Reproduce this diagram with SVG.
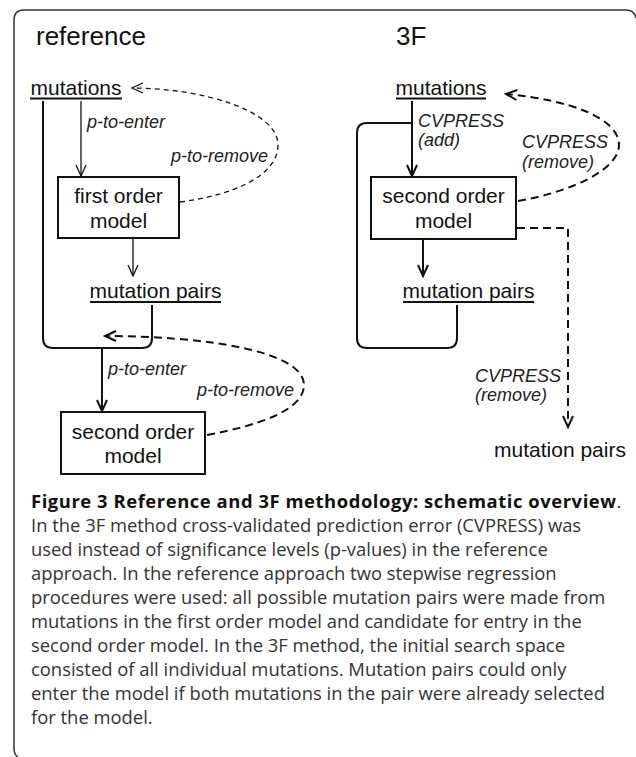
<svg xmlns="http://www.w3.org/2000/svg" width="636" height="757" viewBox="0 0 636 757">
<defs>
<style>
.t{font-family:"Liberation Sans",Arial,sans-serif;font-size:21px;fill:#111;}
.big{font-size:26px;}
.it{font-family:"Liberation Sans",Arial,sans-serif;font-size:18px;font-style:italic;fill:#222;}
.ul{stroke:#111;stroke-width:1.8;}
.box{fill:#fff;stroke:#111;stroke-width:2;}
.thin{fill:none;stroke:#111;stroke-width:1.3;}
.thick{fill:none;stroke:#111;stroke-width:2;}
.dthin{fill:none;stroke:#111;stroke-width:1.3;stroke-dasharray:5 4;}
.dthick{fill:none;stroke:#111;stroke-width:2;stroke-dasharray:8 5;}
.cap{font-family:"Open Sans","DejaVu Sans",sans-serif;font-size:18.4px;fill:#333;}
.capb{font-weight:bold;fill:#111;}
</style>
<marker id="ah1" markerUnits="userSpaceOnUse" markerWidth="16" markerHeight="16" viewBox="-13 -8 16 16" refX="0" refY="0" orient="auto">
<path d="M-11,-5 L0,0 L-11,5" fill="none" stroke="#111" stroke-width="1.3"/>
</marker>
<marker id="ah2" markerUnits="userSpaceOnUse" markerWidth="16" markerHeight="16" viewBox="-13 -8 16 16" refX="0" refY="0" orient="auto">
<path d="M-11,-5 L0,0 L-11,5" fill="none" stroke="#111" stroke-width="2"/>
</marker>
</defs>

<path id="frame" d="M18,757 Q14,755 14,748 L14,20 Q14,10 24,10 L626,10 Q634,10 636,18" fill="none" stroke="#333" stroke-width="1.5"/>

<g id="titles">
<text class="t big" x="36" y="45">reference</text>
<text class="t big" x="396" y="45">3F</text>
</g>

<g id="connectors">
<line class="thin" x1="81" y1="101" x2="81" y2="176" marker-end="url(#ah1)"/>
<path class="dthin" d="M180,202 C235,195 278,175 278,145 C278,110 200,88 132,88" marker-end="url(#ah1)"/>
<line class="thin" x1="133" y1="239" x2="133" y2="276" marker-end="url(#ah1)"/>
<path class="thick" d="M43,101 L43,338 Q43,348 53,348 L142,348 Q152,348 152,338 L152,305"/>
<line class="thick" x1="102" y1="348" x2="102" y2="411" marker-end="url(#ah2)"/>
<path class="dthick" d="M207,435 C260,425 304,410 304,385 C304,350 200,336 105,336" marker-end="url(#ah2)"/>
<line class="thick" x1="412" y1="101" x2="412" y2="176" marker-end="url(#ah2)"/>
<path class="thick" d="M412,123 L367,123 Q357,123 357,133 L357,338 Q357,348 367,348 L447,348 Q457,348 457,338 L457,305"/>
<path class="dthick" d="M518,201 C570,192 619,170 619,145 C619,118 570,100 506,94" marker-end="url(#ah2)"/>
<line class="thick" x1="423" y1="240" x2="423" y2="276" marker-end="url(#ah2)"/>
<path class="dthick" d="M517,228 L568,228 L568,427" marker-end="url(#ah2)"/>
</g>

<g id="labels">
<text class="it" x="87" y="128">p-to-enter</text>
<text class="it" x="171" y="162">p-to-remove</text>
<text class="it" x="108" y="375">p-to-enter</text>
<text class="it" x="197" y="396">p-to-remove</text>
<text class="it" x="418" y="127">CVPRESS</text>
<text class="it" x="418" y="146">(add)</text>
<text class="it" x="522" y="148">CVPRESS</text>
<text class="it" x="522" y="168">(remove)</text>
<text class="it" x="475" y="382">CVPRESS</text>
<text class="it" x="475" y="401">(remove)</text>
</g>

<g id="ref-mutations">
<text class="t" x="76" y="95" text-anchor="middle">mutations</text>
<line class="ul" x1="30" y1="98.5" x2="122" y2="98.5"/>
</g>
<g id="ref-first-order-model">
<rect class="box" x="58" y="177" width="121" height="61"/>
<text class="t" x="118.5" y="203" text-anchor="middle">first order</text>
<text class="t" x="118.5" y="228" text-anchor="middle">model</text>
</g>
<g id="ref-mutation-pairs">
<text class="t" x="155.5" y="298" text-anchor="middle">mutation pairs</text>
<line class="ul" x1="90" y1="302" x2="221" y2="302"/>
</g>
<g id="ref-second-order-model">
<rect class="box" x="61" y="412" width="144" height="62"/>
<text class="t" x="133" y="439" text-anchor="middle">second order</text>
<text class="t" x="133" y="463" text-anchor="middle">model</text>
</g>

<g id="f3-mutations">
<text class="t" x="441" y="95" text-anchor="middle">mutations</text>
<line class="ul" x1="396" y1="98.5" x2="486" y2="98.5"/>
</g>
<g id="f3-second-order-model">
<rect class="box" x="371" y="177" width="145" height="62"/>
<text class="t" x="443.5" y="203" text-anchor="middle">second order</text>
<text class="t" x="443.5" y="228" text-anchor="middle">model</text>
</g>
<g id="f3-mutation-pairs">
<text class="t" x="468.5" y="298" text-anchor="middle">mutation pairs</text>
<line class="ul" x1="403" y1="302" x2="534" y2="302"/>
</g>
<g id="f3-mutation-pairs-out">
<text class="t" x="560" y="457" text-anchor="middle">mutation pairs</text>
</g>

<g id="caption" class="cap">
<text x="31" y="508"><tspan class="capb" textLength="585" lengthAdjust="spacing">Figure 3 Reference and 3F methodology: schematic overview</tspan>.</text>
<text x="31" y="532">In the 3F method cross-validated prediction error (CVPRESS) was</text>
<text x="31" y="556">used instead of significance levels (p-values) in the reference</text>
<text x="31" y="580">approach. In the reference approach two stepwise regression</text>
<text x="31" y="604">procedures were used: all possible mutation pairs were made from</text>
<text x="31" y="628">mutations in the first order model and candidate for entry in the</text>
<text x="31" y="652">second order model. In the 3F method, the initial search space</text>
<text x="31" y="676">consisted of all individual mutations. Mutation pairs could only</text>
<text x="31" y="700">enter the model if both mutations in the pair were already selected</text>
<text x="31" y="724">for the model.</text>
</g>
</svg>
